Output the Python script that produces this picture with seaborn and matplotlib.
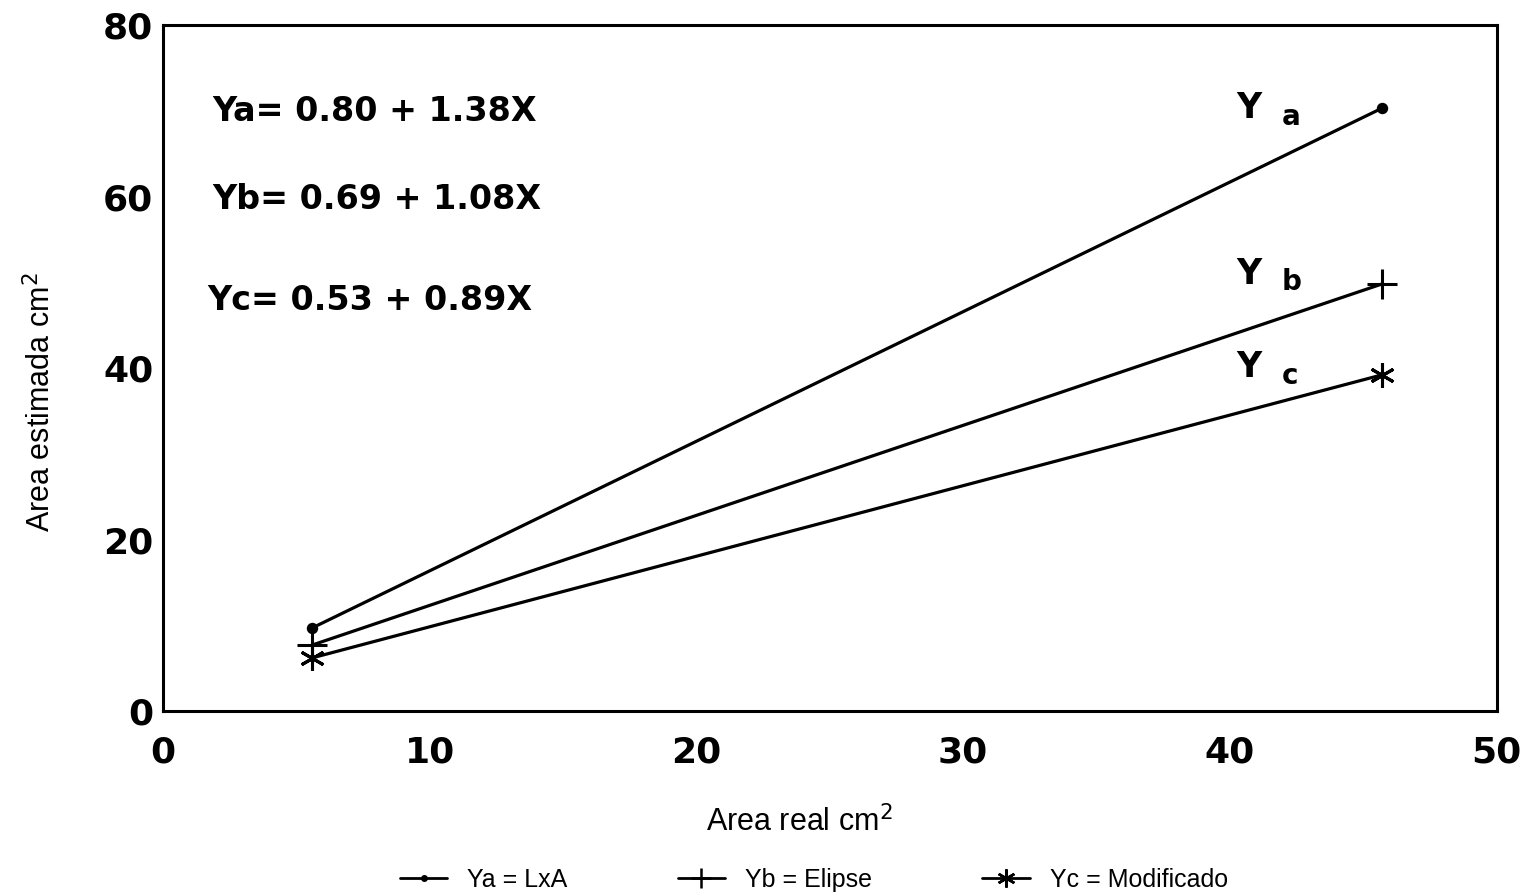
import matplotlib
matplotlib.use("Agg")
import matplotlib.pyplot as plt
import seaborn as sns
import pandas as pd
from matplotlib.lines import Line2D

sns.set_theme(style="white")
plt.rcParams['font.family'] = ['Liberation Sans', 'DejaVu Sans']
plt.rcParams['text.color'] = 'black'
plt.rcParams['axes.labelcolor'] = 'black'

x_real = [5.6, 45.7]
ya = [9.7, 70.3]
yb = [7.7, 49.8]
yc = [6.2, 39.2]
series_names = ["Ya = LxA", "Yb = Elipse", "Yc = Modificado"]
markers = {"Ya = LxA": "o", "Yb = Elipse": "+", "Yc = Modificado": (6, 2, 0)}
equations = ["Ya= 0.80 + 1.38X", "Yb= 0.69 + 1.08X", "Yc= 0.53 + 0.89X"]
xticks = [0, 10, 20, 30, 40, 50]
yticks = [0, 20, 40, 60, 80]

df = pd.DataFrame({
    "x": x_real * 3,
    "y": ya + yb + yc,
    "serie": [series_names[0]] * 2 + [series_names[1]] * 2 + [series_names[2]] * 2,
})

fig = plt.figure(figsize=(15.24, 8.96), dpi=100)
ax = fig.add_axes([0.107, 0.2065, 0.875, 0.7655])

for name, msize in zip(series_names, [6, 22, 18]):
    sub = df[df["serie"] == name]
    sns.lineplot(data=sub, x="x", y="y", ax=ax, color="black", linewidth=2.3,
                 marker=markers[name], markersize=msize, markeredgewidth=2.2,
                 markeredgecolor="black", markerfacecolor="black", legend=False)

bold_font = dict(family=["DejaVu Sans"], weight="bold", color="black")

ax.set_xlim(0, 50)
ax.set_ylim(0, 80)
ax.set_xticks(xticks)
ax.set_yticks(yticks)
ax.set_xticklabels([str(t) for t in xticks], fontsize=26, **bold_font)
ax.set_yticklabels([str(t) for t in yticks], fontsize=26, **bold_font)
ax.tick_params(direction="in", length=12, width=2, colors="black")
ax.tick_params(axis="y", pad=7)
ax.tick_params(axis="x", pad=18)
for s in ax.spines.values():
    s.set_linewidth(2.2)
    s.set_color("black")

ax.set_xlabel("Area real cm$^2$", fontsize=22, color="black")
ax.set_ylabel("Area estimada cm$^2$", fontsize=22, color="black")
ax.xaxis.set_label_coords(0.477, -0.138)
ax.yaxis.set_label_coords(-0.079, 0.45)

eq_pos = [(1.85, 69.9), (1.85, 59.6), (1.65, 47.9)]
for txt, (ex, ey) in zip(equations, eq_pos):
    ax.text(ex, ey, txt, fontsize=24, ha="left", va="center", **bold_font)

lab_pos = [("a", 70.3), ("b", 51.0), ("c", 40.1)]
for letter, ly in lab_pos:
    ax.text(40.25, ly, "Y", fontsize=25, ha="left", va="center", **bold_font)
    ax.text(41.95, ly - 1.0, letter, fontsize=20, ha="left", va="center", **bold_font)

handles = [
    Line2D([0], [0], color="black", lw=2, marker="o", markersize=4),
    Line2D([0], [0], color="black", lw=2, marker="+", markersize=14, markeredgewidth=1.8),
    Line2D([0], [0], color="black", lw=2, marker=(6, 2, 0), markersize=13, markeredgewidth=1.8),
]
fig.legend(handles, series_names, loc="center", bbox_to_anchor=(0.534, 0.018), ncol=3,
           frameon=False, fontsize=18, handlelength=1.9, columnspacing=4.4, handletextpad=0.8,
           labelcolor="black")

fig.savefig("out.png", dpi=100, facecolor="white")
